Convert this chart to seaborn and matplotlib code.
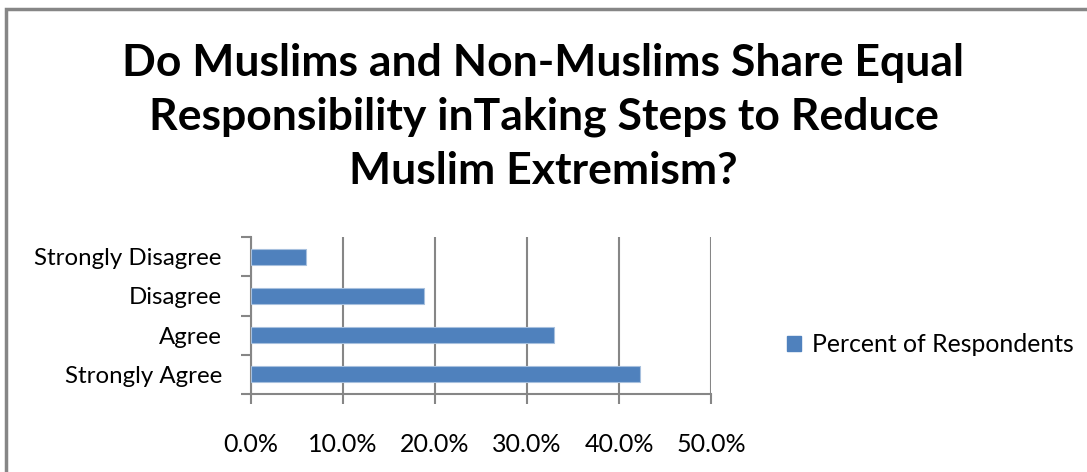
import matplotlib
matplotlib.use("Agg")
import matplotlib.pyplot as plt
import matplotlib.patches as mpatches
from matplotlib.ticker import FixedLocator, PercentFormatter
import seaborn as sns
import pandas as pd

categories = ["Strongly Disagree", "Disagree", "Agree", "Strongly Agree"]
percent = [6.0, 18.8, 32.9, 42.3]
series_name = "Percent of Respondents"
x_ticks = [0, 10, 20, 30, 40, 50]
title = "Do Muslims and Non-Muslims Share Equal\nResponsibility inTaking Steps to Reduce\nMuslim Extremism?"

df = pd.DataFrame({"Response": categories, "Percent": percent})

sns.set_theme(style="white")
plt.rcParams["font.family"] = ["Lato", "DejaVu Sans"]
plt.rcParams["text.color"] = "black"

fig = plt.figure(figsize=(10.87, 4.72), dpi=100)
ax = fig.add_axes([251 / 1087, (472 - 394) / 472, (711 - 251) / 1087, (394 - 237) / 472])

bar_color = "#4F81BD"
sns.barplot(data=df, y="Response", x="Percent", orient="h", color=bar_color,
            width=0.41, ax=ax, saturation=1, edgecolor="#A7C0DE", linewidth=0.8,
            zorder=3)

ax.set_xlim(0, 50)
ax.set_ylim(3.5, -0.5)
ax.xaxis.set_major_locator(FixedLocator(x_ticks))
ax.xaxis.set_major_formatter(PercentFormatter(decimals=1))
ax.grid(axis="x", color="#868686", linewidth=1.5, zorder=0)
ax.grid(axis="y", visible=False)
ax.set_xlabel("")
ax.set_ylabel("")

for s in ["top", "right"]:
    ax.spines[s].set_visible(False)
for s in ["left", "bottom"]:
    ax.spines[s].set_color("#868686")
    ax.spines[s].set_linewidth(1.5)

ax.set_yticks([-0.5, 0.5, 1.5, 2.5, 3.5], minor=True)
ax.tick_params(axis="y", which="minor", left=True, length=7, width=1.5, color="#868686")
ax.tick_params(axis="y", which="major", left=False, labelsize=17.3, pad=15, labelcolor="black")
ax.tick_params(axis="x", which="major", bottom=True, length=7, width=1.5, color="#868686",
               labelsize=18, pad=21, labelcolor="black")

fig.suptitle(title, fontsize=32, fontweight="bold", x=0.5, y=1 - 117 / 472,
             va="center", linespacing=1.42, color="black")

handle = mpatches.Patch(facecolor=bar_color, edgecolor=bar_color, label=series_name)
fig.legend(handles=[handle], loc="center left", bbox_to_anchor=(765 / 1087, 1 - 345 / 472),
           frameon=False, fontsize=17.8, handlelength=0.55, handleheight=0.55,
           handletextpad=0.45, labelcolor="black")

# outer chart frame
fig.patches.append(mpatches.Rectangle((6 / 1087, -0.05), 1.2, 1 - 9 / 472 + 0.05,
                                      transform=fig.transFigure, fill=False,
                                      edgecolor="#868686", linewidth=2.5))

fig.savefig("out.png", dpi=100)
